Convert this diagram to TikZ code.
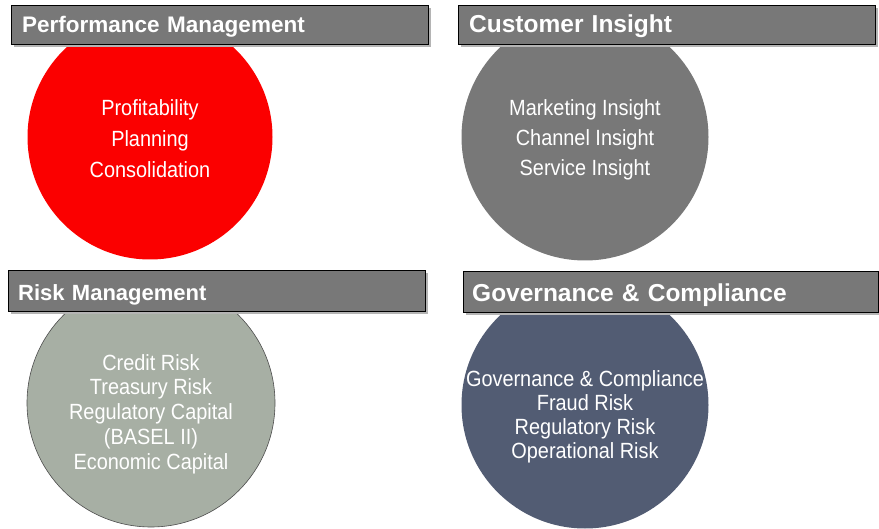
\documentclass[tikz,border=0pt]{standalone}
\usepackage{fontspec}
\setmainfont{Liberation Sans}
\newfontfamily\narrowfont[FakeStretch=0.905]{Liberation Sans}
\usetikzlibrary{shadows}
\definecolor{bargray}{HTML}{787878}
\definecolor{shadowgray}{HTML}{B4B4B4}
\definecolor{pmred}{HTML}{FB0000}
\definecolor{cigray}{HTML}{787878}
\definecolor{rmgreen}{HTML}{A7AFA4}
\definecolor{gcslate}{HTML}{525C73}
\newcommand{\titlesize}[1]{\bfseries\fontsize{#1}{#1}\selectfont}

\begin{document}
\begin{tikzpicture}[x=1pt, y=-1pt,
    banner/.style={draw=black, fill=bargray, text=white, anchor=north west, align=left, minimum height=39pt,
        text height=16.5pt, text depth=0pt,
        drop shadow={shadow xshift=3pt, shadow yshift=-3pt, fill=shadowgray, opacity=1}},
    blob/.style={circle, inner sep=0pt, minimum size=#1},
    items/.style={text=white, align=center, font=\narrowfont\fontsize{22}{#1}\selectfont}]
    \useasboundingbox (0, 0) rectangle (879, 529);

    % circles
    \node (pm) [blob=245pt, fill=pmred] at (150, 137) {};
    \node (ci) [blob=247pt, fill=cigray] at (585, 137) {};
    \node (rm) [blob=248pt, fill=rmgreen, draw=black!70, line width=0.6pt] at (151, 403) {};
    \node (gc) [blob=247pt, fill=gcslate] at (585, 405) {};

    % contents
    \node (pmlist) [items=31pt] at (150, 139) {Profitability\\Planning\\Consolidation};
    \node (cilist) [items=30pt] at (585, 140) {Marketing Insight\\Channel Insight\\Service Insight};
    \node (rmlist) [items=24.75pt] at (151, 414) {Credit Risk\\Treasury Risk\\Regulatory Capital\\(BASEL II)\\Economic Capital};
    \node (gclist) [items=24pt] at (585, 417) {Governance \& Compliance\\Fraud Risk\\Regulatory Risk\\Operational Risk};

    % banners
    \node (pmbar) [banner, inner xsep=11pt, text width=395pt, font=\titlesize{22.5}] at (11, 5) {Performance Management};
    \node (cibar) [banner, inner xsep=11pt, text width=395pt, font=\titlesize{24.5}] at (458, 5) {Customer Insight};
    \node (rmbar) [banner, inner xsep=10pt, text width=397pt, minimum height=41pt, text height=19.5pt, font=\titlesize{22}] at (8, 270) {Risk Management};
    \node (gcbar) [banner, inner xsep=9pt, text width=397pt, minimum height=41pt, text height=19.5pt, font=\titlesize{24.5}] at (463, 271) {Governance \& Compliance};
\end{tikzpicture}
\end{document}
